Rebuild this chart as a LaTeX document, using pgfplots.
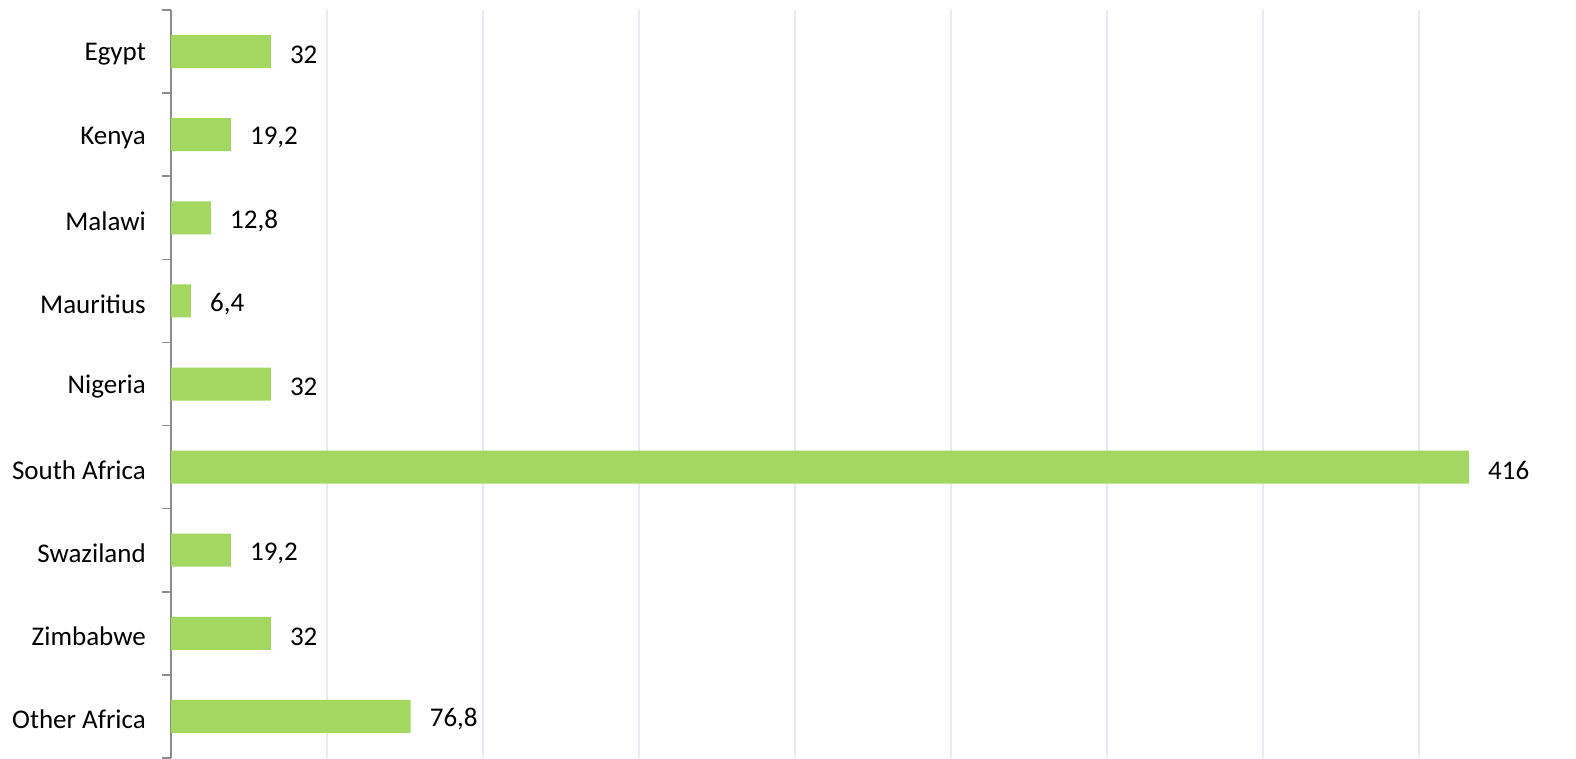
\documentclass[border=0pt]{standalone}
\usepackage{fontspec}
\setmainfont{Carlito}
\usepackage{pgfplots}
\pgfplotsset{compat=1.18}
\definecolor{barg}{RGB}{162,216,98}
\definecolor{gridc}{RGB}{226,235,245}
\definecolor{axc}{RGB}{140,140,140}
\begin{document}
\begin{tikzpicture}
\begin{axis}[
  at={(171pt,0pt)}, anchor=south west,
  scale only axis,
  width=1404pt, height=748pt,
  xbar, bar width=33pt, bar shift=0pt,
  xmin=0, xmax=450,
  ymin=-0.5, ymax=8.5,
  y dir=reverse,
  axis x line*=bottom,
  axis y line*=left,
  x axis line style={draw=none},
  y axis line style={-, draw=axc, line width=1.6pt},
  xtick={50,100,...,400},
  xticklabels={},
  major x tick style={draw=none},
  xmajorgrids,
  x grid style={draw=gridc, line width=1.6pt},
  ytick={0,...,8},
  yticklabels={Egypt,Kenya,Malawi,Mauritius,Nigeria,South Africa,Swaziland,Zimbabwe,Other Africa},
  minor ytick={-0.5,0.5,...,8.5},
  major y tick style={draw=none},
  minor y tick style={draw=axc, line width=1.6pt},
  tick align=outside,
  major tick length=0pt,
  minor tick length=9pt,
  yticklabel style={font=\fontsize{27}{31}\selectfont, inner xsep=0pt, xshift=-25pt, yshift=-3pt},
  nodes near coords,
  point meta=explicit symbolic,
  every node near coord/.style={font=\fontsize{27}{31}\selectfont, anchor=west, inner xsep=0pt, xshift=19pt, yshift=-3pt, black},
  clip=false,
]
\addplot[fill=barg, draw=none] coordinates {
  (32,0) [32]
  (19.2,1) [{19,2}]
  (12.8,2) [{12,8}]
  (6.4,3) [{6,4}]
  (32,4) [32]
  (416,5) [416]
  (19.2,6) [{19,2}]
  (32,7) [32]
  (76.8,8) [{76,8}]
};
\end{axis}
\pgfresetboundingbox
\path (0,0) rectangle (1576pt,758pt);
\end{tikzpicture}
\end{document}
